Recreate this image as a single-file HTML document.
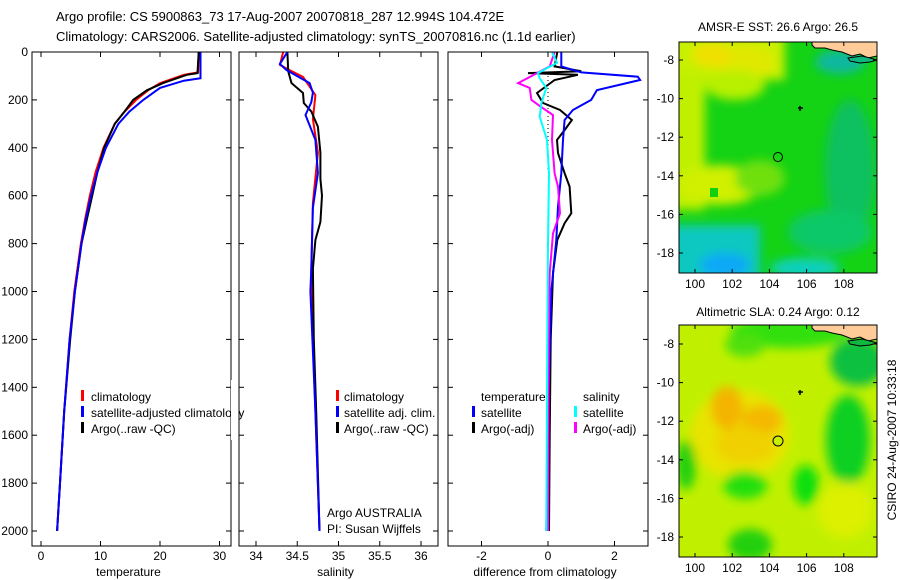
<!DOCTYPE html>
<html><head><meta charset="utf-8"><style>
html,body{margin:0;padding:0;background:#fff}
svg{display:block;font-family:"Liberation Sans",Arial,sans-serif;font-size:12px}
</style></head><body>
<svg id="fig" width="900" height="580" viewBox="0 0 900 580">
<defs>
<filter id="blur6" x="-50%" y="-50%" width="200%" height="200%"><feGaussianBlur stdDeviation="5"/></filter>
<clipPath id="clipMap1"><rect x="679" y="42" width="198" height="231"/></clipPath>
<clipPath id="clipMap2"><rect x="679" y="325" width="198" height="232"/></clipPath>
<clipPath id="clipP1"><rect x="32" y="52" width="199" height="494"/></clipPath>
<clipPath id="clipP2"><rect x="239" y="52" width="199" height="494"/></clipPath>
<clipPath id="clipP3"><rect x="448" y="52" width="200" height="494"/></clipPath>
</defs>
<text x="56" y="21" font-size="13">Argo profile: CS 5900863_73 17-Aug-2007 20070818_287 12.994S 104.472E</text>
<text x="56" y="41" font-size="13">Climatology: CARS2006. Satellite-adjusted climatology: synTS_20070816.nc (1.1d earlier)</text>

<g id="p1"></g>
<g id="p2"></g>
<g id="p3"></g>

<g>
<rect x="81" y="390" width="3" height="11" fill="#f00"/><text x="91" y="401">climatology</text>
<rect x="81" y="406" width="3" height="11" fill="#00f"/><text x="91" y="417">satellite-adjusted climatology</text>
<rect x="81" y="422" width="3" height="11" fill="#000"/><text x="91" y="433">Argo(..raw -QC)</text>
</g>
<rect x="231" y="380" width="7" height="60" fill="#fff"/>
<g>
<rect x="336" y="390" width="3" height="11" fill="#f00"/><text x="344" y="401">climatology</text>
<rect x="336" y="406" width="3" height="11" fill="#00f"/><text x="344" y="417">satellite adj. clim.</text>
<rect x="336" y="422" width="3" height="11" fill="#000"/><text x="344" y="433">Argo(..raw -QC)</text>
<text x="327" y="517">Argo AUSTRALIA</text>
<text x="327" y="533">PI: Susan Wijffels</text>
</g>
<g>
<text x="481" y="401">temperature</text>
<rect x="472" y="406" width="3" height="11" fill="#00f"/><text x="481" y="417">satellite</text>
<rect x="472" y="422" width="3" height="11" fill="#000"/><text x="481" y="433">Argo(-adj)</text>
<text x="583" y="401">salinity</text>
<rect x="574" y="406" width="3" height="11" fill="#0ff"/><text x="583" y="417">satellite</text>
<rect x="574" y="422" width="3" height="11" fill="#f0f"/><text x="583" y="433">Argo(-adj)</text>
</g>

<!-- Map 1 -->
<text x="778" y="31" text-anchor="middle">AMSR-E SST: 26.6 Argo: 26.5</text>
<g clip-path="url(#clipMap1)">
<rect x="679" y="42" width="198" height="231" fill="#14d214"/>
<g filter="url(#blur6)">
<rect x="670" y="35" width="115" height="45" fill="#c8f000"/>
<ellipse cx="745" cy="62" rx="30" ry="18" fill="#e0e800"/>
<ellipse cx="712" cy="55" rx="20" ry="12" fill="#f0e000"/>
<rect x="670" y="70" width="35" height="140" fill="#c0f000"/>
<ellipse cx="735" cy="85" rx="30" ry="15" fill="#b8f000"/>
<ellipse cx="720" cy="185" rx="42" ry="20" fill="#d0f000"/>
<ellipse cx="760" cy="178" rx="25" ry="18" fill="#70e010"/>
<ellipse cx="850" cy="170" rx="25" ry="70" fill="#08c060"/>
<ellipse cx="830" cy="232" rx="42" ry="22" fill="#08c868"/>
<rect x="670" y="225" width="90" height="60" fill="#10c8c0"/>
<ellipse cx="725" cy="265" rx="25" ry="12" fill="#10a8f8"/>
<ellipse cx="805" cy="268" rx="35" ry="10" fill="#10d0c0"/>
<ellipse cx="840" cy="62" rx="25" ry="12" fill="#10b8a0"/>
</g>
<rect x="710" y="188" width="8" height="9" fill="#10d010"/>
<path d="M812,42 L877,42 L877,56 L868,58 L860,54 L852,56 L842,52 L832,50 L825,48 L815,48 L812,45 Z" fill="#ffcc99" stroke="#000" stroke-width="1"/>
<path d="M848,58 L862,56 L870,58 L877,60 L870,62 L860,63 L850,61 Z" fill="#10b880" stroke="#000" stroke-width="1"/>
</g>
<rect x="679" y="42" width="198" height="231" fill="none" stroke="#000"/>
<circle cx="778" cy="157" r="4.5" fill="none" stroke="#000"/>
<path d="M798,108 h5 M800,106 v5" stroke="#000" stroke-width="1.5"/>
<g id="m1ax"></g>

<!-- Map 2 -->
<text x="778" y="316" text-anchor="middle">Altimetric SLA: 0.24 Argo: 0.12</text>
<g clip-path="url(#clipMap2)">
<rect x="679" y="325" width="198" height="232" fill="#c0f000"/>
<g filter="url(#blur6)">
<ellipse cx="740" cy="435" rx="50" ry="45" fill="#e8e400"/>
<ellipse cx="727" cy="408" rx="16" ry="22" fill="#f4b400"/>
<ellipse cx="762" cy="420" rx="20" ry="15" fill="#f4b800"/>
<ellipse cx="745" cy="445" rx="30" ry="18" fill="#f0d000"/>
<ellipse cx="790" cy="332" rx="60" ry="16" fill="#30e010"/>
<ellipse cx="745" cy="345" rx="20" ry="12" fill="#50e010"/>
<ellipse cx="858" cy="362" rx="28" ry="24" fill="#10c040"/>
<ellipse cx="848" cy="440" rx="22" ry="45" fill="#10d020"/>
<ellipse cx="745" cy="485" rx="22" ry="14" fill="#20e010"/>
<ellipse cx="806" cy="485" rx="13" ry="20" fill="#10e010"/>
<ellipse cx="750" cy="545" rx="22" ry="16" fill="#20d010"/>
<ellipse cx="686" cy="465" rx="10" ry="25" fill="#20d010"/>
<ellipse cx="845" cy="510" rx="28" ry="28" fill="#dcf000"/>
</g>
<path d="M812,325 L877,325 L877,339 L868,341 L860,337 L852,339 L842,335 L832,333 L825,331 L815,331 L812,328 Z" fill="#ffcc99" stroke="#000" stroke-width="1"/>
<path d="M848,341 L862,339 L870,341 L877,343 L870,345 L860,346 L850,344 Z" fill="#10b840" stroke="#000" stroke-width="1"/>
</g>
<rect x="679" y="325" width="198" height="232" fill="none" stroke="#000"/>
<circle cx="778" cy="441" r="5" fill="#c8f000" stroke="#000"/>
<path d="M798,392 h5 M800,390 v5" stroke="#000" stroke-width="1.5"/>
<g id="m2ax"></g>
<text transform="translate(896,440) rotate(-90)" text-anchor="middle">CSIRO 24-Aug-2007 10:33:18</text>

<script>
const depthTicks = [0,200,400,600,800,1000,1200,1400,1600,1800,2000];
const tempTicks = [0,10,20,30];
const salTicks = [34,34.5,35,35.5,36];
const salTickLabels = ["34","34.5","35","35.5","36"];
const diffTicks = [-2,0,2];
const lonTicks = [100,102,104,106,108];
const latTicks = [-8,-10,-12,-14,-16,-18];

const tempClimDepth = [0,85,95,130,160,200,250,300,400,500,600,700,800,1000,1200,1500,1800,2000];
const tempClimVal   = [26.5,26.4,24,20,18,16,14,12.4,10.5,9.2,8.2,7.4,6.7,5.6,4.8,3.9,3.2,2.7];
const tempSatDepth  = [0,110,120,150,200,250,300,400,500,600,700,800,1000,1200,1500,1800,2000];
const tempSatVal    = [26.8,26.8,24,20,17.2,14.8,13,10.9,9.5,8.4,7.5,6.8,5.7,4.8,3.9,3.2,2.7];
const tempArgoDepth = [0,88,95,130,160,200,250,300,400,500,600,700,800,1000,1200,1500,1800,2000];
const tempArgoVal   = [26.5,26.3,24.5,20.5,17.8,15.5,14,12.4,10.6,9.5,8.6,7.7,6.8,5.7,4.9,3.9,3.2,2.7];

const salClimDepth = [0,54,76,104,180,280,420,630,905,1000,1500,2000];
const salClimVal   = [34.33,34.29,34.41,34.57,34.72,34.69,34.75,34.69,34.67,34.67,34.72,34.77];
const salSatDepth  = [0,50,75,130,170,210,263,367,506,650,905,1000,1500,2000];
const salSatVal    = [34.38,34.29,34.37,34.65,34.69,34.67,34.6,34.72,34.75,34.69,34.67,34.66,34.72,34.77];
const salArgoDepth = [0,80,130,171,213,248,312,420,530,600,710,785,905,1200,1500,2000];
const salArgoVal   = [34.38,34.39,34.43,34.57,34.58,34.67,34.75,34.78,34.78,34.8,34.78,34.72,34.69,34.7,34.73,34.77];

const dTSatDepth = [0,60,85,103,117,159,200,242,284,367,506,646,785,1000,1500,2000];
const dTSatVal   = [0.4,0.4,1.0,2.7,2.77,1.47,1.3,0.75,0.5,0.45,0.4,0.3,0.25,0.1,0.0,-0.05];
const dTArgoDepth = [0,60,80,88,95,117,171,213,242,284,326,367,422,506,562,673,715,785,923,1200,1600,2000];
const dTArgoVal   = [0.28,0.2,1.0,-0.6,0.9,0.2,-0.33,-0.15,0.36,0.72,0.5,0.27,0.3,0.5,0.65,0.7,0.5,0.28,0.15,0.08,0.05,0.03];
const dSSatDepth = [0,45,88,110,150,213,270,367,506,800,1200,2000];
const dSSatVal   = [0.12,0.27,-0.3,-0.25,-0.05,-0.2,-0.25,-0.03,0.03,0.0,-0.02,-0.05];
const dSArgoDepth = [0,60,130,150,200,225,263,367,506,562,673,757,923,1200,2000];
const dSArgoVal   = [0.2,0.05,-0.9,-0.55,-0.5,-0.25,0.15,0.12,0.2,0.3,0.36,0.15,0.05,0.02,0.0];

const NS = "http://www.w3.org/2000/svg";
const yDepth = d => 52 + d * (531 - 52) / 2000;
const xTemp = v => 41 + v * 5.95;
const xSal = v => 256 + (v - 34) * 82.5;
const xDiff = v => 548 + v * 33.25;
const xLon = v => 695 + (v - 100) * 18.6;
const yLat1 = v => 60 + (-8 - v) * 19.3;
const yLat2 = v => 344 + (-8 - v) * 19.3;

function mk(tag, attrs, parent) {
  const e = document.createElementNS(NS, tag);
  for (const k in attrs) e.setAttribute(k, attrs[k]);
  parent.appendChild(e);
  return e;
}
function line(parent, depths, vals, xs, color, name, clip, w) {
  const pts = depths.map((d, i) => xs(vals[i]).toFixed(1) + "," + yDepth(d).toFixed(1)).join(" ");
  const p = mk("polyline", {points: pts, fill: "none", stroke: color, "stroke-width": w || 2, "clip-path": "url(#" + clip + ")"}, parent);
  
  
}
function panel(g, x0, x1, ticks, labels, xs, xlabel, showDepth) {
  const box = mk("rect", {x: x0, y: 52, width: x1 - x0, height: 494, fill: "none", stroke: "#000"}, g);
  
  
  ticks.forEach((t, i) => {
    const x = xs(t);
    mk("line", {x1: x, x2: x, y1: 546, y2: 541, stroke: "#000"}, g);
    mk("line", {x1: x, x2: x, y1: 52, y2: 57, stroke: "#000"}, g);
    const tx = mk("text", {x: x, y: 560, "text-anchor": "middle"}, g);
    tx.textContent = labels[i];
    
    
  });
  depthTicks.forEach(d => {
    const y = yDepth(d);
    mk("line", {x1: x0, x2: x0 + 5, y1: y, y2: y, stroke: "#000"}, g);
    mk("line", {x1: x1, x2: x1 - 5, y1: y, y2: y, stroke: "#000"}, g);
    if (showDepth) {
      const tx = mk("text", {x: 28, y: y + 4, "text-anchor": "end"}, g);
      tx.textContent = d;
      
      
    }
  });
  const xl = mk("text", {x: (x0 + x1) / 2 - 3, y: 576, "text-anchor": "middle"}, g);
  xl.textContent = xlabel;
  
  
}
const p1 = document.getElementById("p1"), p2 = document.getElementById("p2"), p3 = document.getElementById("p3");
line(p1, tempClimDepth, tempClimVal, xTemp, "#f00", "temp-climatology-line", "clipP1");
line(p1, tempArgoDepth, tempArgoVal, xTemp, "#000", "temp-argo-line", "clipP1");
line(p1, tempSatDepth, tempSatVal, xTemp, "#00f", "temp-satellite-line", "clipP1");
panel(p1, 32, 231, tempTicks, tempTicks.map(String), xTemp, "temperature", true);

line(p2, salClimDepth, salClimVal, xSal, "#f00", "sal-climatology-line", "clipP2");
line(p2, salArgoDepth, salArgoVal, xSal, "#000", "sal-argo-line", "clipP2");
line(p2, salSatDepth, salSatVal, xSal, "#00f", "sal-satellite-line", "clipP2");
panel(p2, 239, 438, salTicks, salTickLabels, xSal, "salinity", false);

const z = mk("line", {x1: xDiff(0), x2: xDiff(0), y1: yDepth(100), y2: yDepth(500), stroke: "#000", "stroke-dasharray": "1,3"}, p3);


line(p3, dTArgoDepth, dTArgoVal, xDiff, "#000", "dT-argo-line", "clipP3");
line(p3, dTSatDepth, dTSatVal, xDiff, "#00f", "dT-satellite-line", "clipP3");
line(p3, dSArgoDepth, dSArgoVal, xDiff, "#f0f", "dS-argo-line", "clipP3");
line(p3, dSSatDepth, dSSatVal, xDiff, "#0ff", "dS-satellite-line", "clipP3");
panel(p3, 448, 648, diffTicks, diffTicks.map(String), xDiff, "difference from climatology", false);

function mapAxes(g, top, bottom, yLat) {
  lonTicks.forEach(l => {
    const x = xLon(l);
    mk("line", {x1: x, x2: x, y1: bottom, y2: bottom - 4, stroke: "#000"}, g);
    mk("line", {x1: x, x2: x, y1: top, y2: top + 4, stroke: "#000"}, g);
    const t = mk("text", {x: x, y: bottom + 15, "text-anchor": "middle"}, g);
    t.textContent = l;
    
    
  });
  latTicks.forEach(l => {
    const y = yLat(l);
    mk("line", {x1: 679, x2: 683, y1: y, y2: y, stroke: "#000"}, g);
    mk("line", {x1: 877, x2: 873, y1: y, y2: y, stroke: "#000"}, g);
    const t = mk("text", {x: 674, y: y + 4, "text-anchor": "end"}, g);
    t.textContent = l;
    
    
  });
}
mapAxes(document.getElementById("m1ax"), 42, 273, yLat1);
mapAxes(document.getElementById("m2ax"), 325, 557, yLat2);
</script>
</svg>
</body></html>
